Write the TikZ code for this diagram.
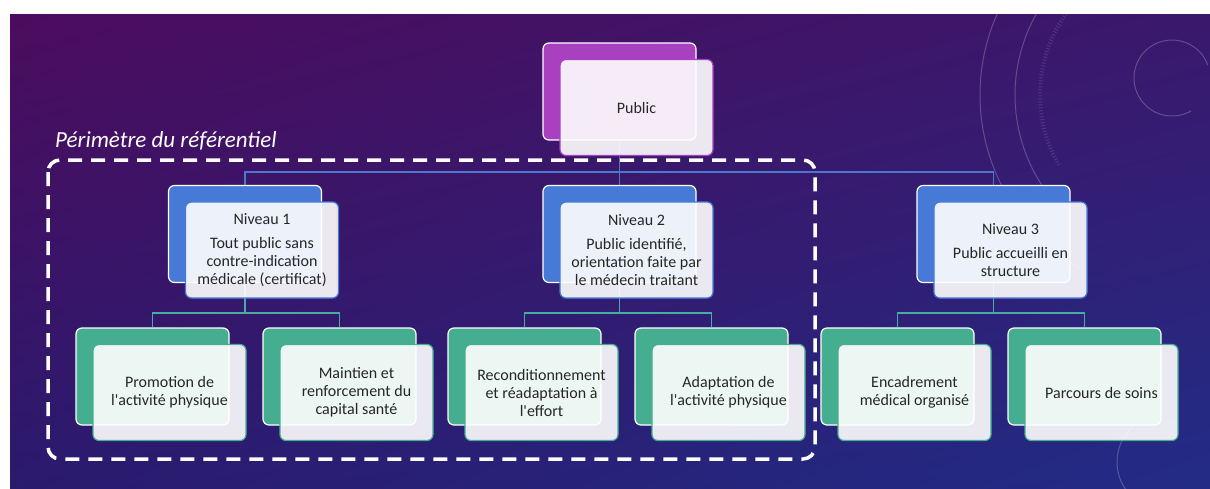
\documentclass[tikz,border=0pt]{standalone}
\usepackage{fontspec}
\newfontfamily\slidefont{Carlito}
\usetikzlibrary{positioning,shadings}

\pgfdeclarelayer{bg}
\pgfdeclarelayer{links}
\pgfsetlayers{bg,links,main}

\definecolor{pubpurple}{RGB}{168,64,192}
\definecolor{lvlblue}{RGB}{70,122,214}
\definecolor{actgreen}{RGB}{69,174,144}
\definecolor{linkblue}{RGB}{74,120,204}
\definecolor{linkteal}{RGB}{70,172,164}
\definecolor{boxtext}{RGB}{38,38,38}
\definecolor{bgtl}{RGB}{76,12,94}
\definecolor{bgtr}{RGB}{58,24,108}
\definecolor{bgbl}{RGB}{42,26,110}
\definecolor{bgbr}{RGB}{34,44,134}

\tikzset{
  back/.style={fill=#1, draw=white, line width=1.2pt, rounded corners=6pt,
    minimum width=153pt, minimum height=97pt, inner sep=0pt},
  front/.style={draw=#1, line width=1.2pt, rounded corners=6pt, fill=white,
    fill opacity=0.9, text opacity=1, minimum width=153pt, minimum height=96pt,
    inner sep=0pt, align=center, text=boxtext,
    font=\slidefont\fontsize{16}{18}\selectfont},
  uplink/.style={draw=linkblue, line width=1.8pt},
  lowlink/.style={draw=linkteal, line width=1.8pt},
  perim/.style={draw=white, line width=3.5pt, dash pattern=on 14pt off 9pt,
    rounded corners=12pt},
  deco/.style={draw=white, draw opacity=0.22, line width=1pt},
}

\begin{document}
\begin{tikzpicture}[x=1pt,y=-1pt]

  \useasboundingbox (0,0) rectangle (1210,488);

  \begin{pgfonlayer}{bg}
    \shade[upper left=bgtl, upper right=bgtr, lower left=bgbl, lower right=bgbr]
      (10,14) rectangle (1210,488);
    % circles on the right
    \draw[deco] (1172,78) ++(60:38) arc (60:340:38);
    \draw[deco] (1180,95) ++(140:165) arc (140:250:165);
    \draw[deco, dash pattern=on 1pt off 2pt, line width=4pt, draw opacity=0.12]
      (1180,95) ++(150:140) arc (150:245:140);
    \draw[deco] (1180,95) ++(120:200) arc (120:235:200);
    \draw[deco] (1165,462) ++(95:48) arc (95:260:48);
  \end{pgfonlayer}

  % top
  \node[back=pubpurple] (pubb) at (619.5,91.5) {};
  \node[front=pubpurple] (pub) at ([shift={(17,16)}]pubb.center) {Public};

  % niveaux
  \node[back=lvlblue] (n1b) at (245,234) {};
  \node[front=lvlblue] (n1) at ([shift={(17,16)}]n1b.center)
    {Niveau 1\\[6pt]Tout public sans\\contre-indication\\médicale (certificat)};
  \node[back=lvlblue] (n2b) at (619.5,234) {};
  \node[front=lvlblue] (n2) at ([shift={(17,16)}]n2b.center)
    {Niveau 2\\[6pt]Public identifié,\\orientation faite par\\le médecin traitant};
  \node[back=lvlblue] (n3b) at (993.5,234) {};
  \node[front=lvlblue] (n3) at ([shift={(17,16)}]n3b.center)
    {Niveau 3\\[6pt]Public accueilli en\\structure};

  % actions
  \node[back=actgreen] (a1b) at (152.5,376.5) {};
  \node[front=actgreen] (a1) at ([shift={(17,16)}]a1b.center)
    {Promotion de\\l'activité physique};
  \node[back=actgreen] (a2b) at (339.5,376.5) {};
  \node[front=actgreen] (a2) at ([shift={(17,16)}]a2b.center)
    {Maintien et\\renforcement du\\capital santé};
  \node[back=actgreen] (a3b) at (524.5,376.5) {};
  \node[front=actgreen] (a3) at ([shift={(17,16)}]a3b.center)
    {Reconditionnement\\et réadaptation à\\l'effort};
  \node[back=actgreen] (a4b) at (711.5,376.5) {};
  \node[front=actgreen] (a4) at ([shift={(17,16)}]a4b.center)
    {Adaptation de\\l'activité physique};
  \node[back=actgreen] (a5b) at (897.5,376.5) {};
  \node[front=actgreen] (a5) at ([shift={(17,16)}]a5b.center)
    {Encadrement\\médical organisé};
  \node[back=actgreen] (a6b) at (1084.5,376.5) {};
  \node[front=actgreen] (a6) at ([shift={(17,16)}]a6b.center)
    {Parcours de soins};

  \begin{pgfonlayer}{links}
    \foreach \n in {n1b,n2b,n3b}
      \draw[uplink] (pubb.south) -- ++(0,31) -| (\n.north);
    \foreach \p/\c in {n1b/a1b,n1b/a2b,n2b/a3b,n2b/a4b,n3b/a5b,n3b/a6b}
      \draw[lowlink] (\p.south) -- ++(0,30) -| (\c.north);
  \end{pgfonlayer}

  % perimetre
  \node[anchor=west, text=white, inner sep=0pt,
    font=\slidefont\itshape\fontsize{23}{26}\selectfont]
    (perimlabel) at (55,141) {Périmètre du référentiel};
  \draw[perim] (48,160) rectangle (815,459);

\end{tikzpicture}
\end{document}
